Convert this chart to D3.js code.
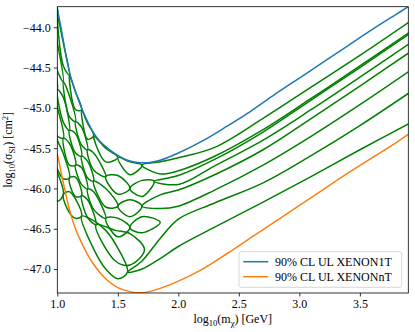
<!DOCTYPE html>
<html>
<head>
<meta charset="utf-8">
<title>XENON contours</title>
<script src="https://cdn.jsdelivr.net/npm/d3@7"></script>
<style>
  body { margin: 0; background: #fff; }
  text { font-family: "Liberation Serif", "DejaVu Serif", serif; }
</style>
</head>
<body>
<script>
// limit curves, log10(m) vs log10(sigma)
var xenon1tMass  = [1.00,1.03,1.06,1.10,1.15,1.20,1.25,1.30,1.35,1.40,1.45,1.50,1.55,1.60,1.68,1.75,1.85,2.00,2.20,2.40,2.60,2.80,3.00,3.20,3.40,3.60,3.80,3.90];
var xenon1tSigma = [-43.77,-44.00,-44.25,-44.55,-44.80,-45.00,-45.17,-45.31,-45.41,-45.48,-45.54,-45.59,-45.63,-45.66,-45.68,-45.68,-45.65,-45.56,-45.41,-45.23,-45.04,-44.83,-44.63,-44.43,-44.23,-44.03,-43.84,-43.745];

var xenonntMass  = [1.00,1.05,1.10,1.15,1.20,1.25,1.30,1.35,1.40,1.50,1.60,1.68,1.76,1.85,2.00,2.20,2.40,2.60,2.80,3.00,3.20,3.40,3.60,3.80,3.90];
var xenonntSigma = [-45.57,-45.93,-46.26,-46.50,-46.67,-46.82,-46.94,-47.04,-47.12,-47.23,-47.28,-47.295,-47.28,-47.24,-47.15,-47.00,-46.81,-46.61,-46.41,-46.21,-46.01,-45.81,-45.62,-45.43,-45.33];

// green contours: [log10 m, upper edge, lower edge]; where the two edges meet the band pinches
var bandU1 = [
  [0.95,-43.44,-43.80],[1.00,-43.82,-43.86],[1.05,-44.20,-44.48],[1.10,-44.58,-44.61],
  [1.15,-44.80,-45.02],[1.20,-45.01,-45.04],[1.25,-45.19,-45.39],[1.30,-45.33,-45.36],
  [1.40,-45.50,-45.67],[1.50,-45.60,-45.63],[1.60,-45.67,-45.83],[1.70,-45.70,-45.72],
  [1.85,-45.67,-45.82],[2.00,-45.62,-45.78],[2.30,-45.49,-45.60],[2.70,-45.13,-45.27],
  [3.10,-44.74,-44.88],[3.50,-44.35,-44.48],[4.00,-43.84,-43.97]
];
var bandU2 = [
  [0.95,-43.85,-44.25],[1.00,-44.19,-44.54],[1.05,-44.66,-44.69],[1.10,-44.85,-45.11],
  [1.15,-45.16,-45.18],[1.20,-45.24,-45.46],[1.25,-45.51,-45.53],[1.30,-45.56,-45.77],
  [1.40,-45.84,-45.87],[1.50,-45.84,-46.07],[1.60,-45.99,-46.01],[1.70,-45.90,-46.10],
  [1.80,-45.90,-45.92],[2.00,-45.84,-45.95],[2.30,-45.64,-45.72],[2.70,-45.30,-45.40],
  [3.10,-44.90,-45.02],[3.50,-44.50,-44.62],[4.00,-43.99,-44.11]
];
var bandU3 = [
  [0.95,-44.30,-44.70],[1.00,-44.76,-44.78],[1.05,-44.87,-45.18],[1.10,-45.27,-45.29],
  [1.15,-45.32,-45.56],[1.20,-45.59,-45.61],[1.25,-45.66,-45.87],[1.30,-45.90,-45.92],
  [1.40,-46.00,-46.23],[1.50,-46.21,-46.23],[1.60,-46.14,-46.35],[1.70,-46.21,-46.23],
  [1.85,-46.08,-46.25],[2.00,-46.02,-46.22],[2.30,-45.83,-46.02],[2.70,-45.52,-45.71],
  [3.10,-45.13,-45.35],[3.50,-44.73,-44.96],[4.00,-44.22,-44.45]
];
var bandLA1 = [
  [0.95,-44.75,-45.15],[1.00,-44.99,-45.35],[1.05,-45.36,-45.39],[1.10,-45.44,-45.71],
  [1.15,-45.70,-45.72],[1.20,-45.74,-45.95],[1.25,-45.99,-46.02],[1.30,-46.04,-46.26],
  [1.40,-46.36,-46.38],[1.50,-46.37,-46.60],[1.60,-46.47,-46.50],[1.70,-46.35,-46.55],
  [1.85,-46.42,-46.42]
];
var bandLA2 = [
  [0.95,-45.20,-45.60],[1.00,-45.40,-45.76],[1.05,-45.57,-45.88],[1.10,-45.86,-45.88],
  [1.15,-45.86,-46.10],[1.20,-46.08,-46.10],[1.25,-46.14,-46.36],[1.32,-46.44,-46.46],
  [1.48,-46.52,-46.90],[1.60,-46.56,-46.95],[1.72,-46.76,-46.76]
];
var bandU4 = [
  [0.95,-45.65,-46.05],[1.00,-45.80,-46.16],[1.05,-46.06,-46.09],[1.10,-46.04,-46.30],
  [1.15,-46.13,-46.37],[1.20,-46.33,-46.36],[1.30,-46.40,-46.75],[1.40,-46.52,-47.00],
  [1.50,-46.74,-47.12],[1.58,-47.03,-47.05],[1.70,-46.90,-47.00],[1.85,-46.62,-46.87],
  [2.00,-46.38,-46.72],[2.30,-46.18,-46.48],[2.70,-45.93,-46.17],[3.10,-45.59,-45.85],
  [3.50,-45.22,-45.52],[4.00,-44.72,-45.12]
];
var greenBands = [bandU1, bandU2, bandU3, bandLA1, bandLA2, bandU4];

var xTicks = [1.0, 1.5, 2.0, 2.5, 3.0, 3.5];
var yTicks = [-47.0, -46.5, -46.0, -45.5, -45.0, -44.5, -44.0];
var legendLabels = ["90% CL UL XENON1T", "90% CL UL XENONnT"];
var legendColors = ["#1f77b4", "#ff7f0e"];

// set the dimensions and margins of the graph
var margin = {top: 6.7, right: 6.7, bottom: 39, left: 57.3},
    width = 415 - margin.left - margin.right,
    height = 332 - margin.top - margin.bottom;

var x = d3.scaleLinear().domain([1.0, 3.9]).range([0, width]);
var y = d3.scaleLinear().domain([-47.297, -43.745]).range([height, 0]);

var svg = d3.select("body").append("svg")
    .attr("width", 415)
    .attr("height", 332)
  .append("g")
    .attr("transform", "translate(" + margin.left + "," + margin.top + ")");

svg.append("clipPath").attr("id", "plotclip")
  .append("rect").attr("width", width).attr("height", height);

var plot = svg.append("g").attr("clip-path", "url(#plotclip)");

var smooth = d3.line()
    .x(function(d) { return x(d[0]); })
    .y(function(d) { return y(d[1]); })
    .curve(d3.curveCatmullRom.alpha(0.5));
var smoothClosed = d3.line()
    .x(function(d) { return x(d[0]); })
    .y(function(d) { return y(d[1]); })
    .curve(d3.curveCatmullRomClosed.alpha(0.5));

function up(d) { return [d[0], d[1]]; }
function lo(d) { return [d[0], d[2]]; }
function mid(d) { return [d[0], (d[1] + d[2]) / 2]; }

function greenPath(pts, closed) {
  plot.append("path")
    .attr("d", closed ? smoothClosed(pts) : smooth(pts))
    .attr("fill", "none")
    .attr("stroke", "#008000")
    .attr("stroke-width", 1.5);
}

// each band: a U-turn on the left, a chain of cells, and a finger (or a closed tip) on the right
greenBands.forEach(function(b) {
  var pin = [];
  b.forEach(function(d, i) { if (Math.abs(d[1] - d[2]) < 0.05) pin.push(i); });
  var first = pin[0], last = pin[pin.length - 1];
  var head = b.slice(0, first);
  if (head.length) {
    greenPath(head.map(up).concat([mid(b[first])], head.slice().reverse().map(lo)), false);
  }
  for (var k = 0; k < pin.length - 1; k++) {
    var inner = b.slice(pin[k] + 1, pin[k + 1]);
    greenPath([mid(b[pin[k]])].concat(inner.map(up), [mid(b[pin[k + 1]])], inner.slice().reverse().map(lo)), true);
  }
  var tail = b.slice(last + 1);
  if (tail.length) {
    greenPath(tail.slice().reverse().map(up).concat([mid(b[last])], tail.map(lo)), false);
  }
});

// limit curves
plot.append("path")
  .attr("d", smooth(xenon1tMass.map(function(m, i) { return [m, xenon1tSigma[i]]; })))
  .attr("fill", "none").attr("stroke", legendColors[0]).attr("stroke-width", 1.5);
plot.append("path")
  .attr("d", smooth(xenonntMass.map(function(m, i) { return [m, xenonntSigma[i]]; })))
  .attr("fill", "none").attr("stroke", legendColors[1]).attr("stroke-width", 1.5);

// axes
var xAxis = svg.append("g")
    .attr("transform", "translate(0," + height + ")")
    .call(d3.axisBottom(x).tickValues(xTicks).tickFormat(d3.format(".1f")).tickSize(3.5).tickSizeOuter(0));
var yAxis = svg.append("g")
    .call(d3.axisLeft(y).tickValues(yTicks).tickFormat(d3.format(".1f")).tickSize(3.5).tickSizeOuter(0));
[xAxis, yAxis].forEach(function(a) {
  a.attr("font-family", null);
  a.select(".domain").remove();
  a.selectAll("line").attr("stroke", "#000").attr("stroke-width", 0.8);
  a.selectAll("text")
    .style("font-family", "'Liberation Serif', 'DejaVu Serif', serif")
    .attr("font-size", 12).attr("fill", "#000");
});
xAxis.selectAll("text").attr("dy", "0.78em").attr("y", 6);
yAxis.selectAll("text").attr("x", -6.5);

svg.append("rect")
  .attr("width", width).attr("height", height)
  .attr("fill", "none").attr("stroke", "#000").attr("stroke-width", 0.8);

// axis titles
var xt = svg.append("text")
  .attr("x", width / 2).attr("y", height + 30)
  .attr("text-anchor", "middle").attr("font-size", 12);
xt.append("tspan").text("log");
xt.append("tspan").attr("font-size", 8.5).attr("dy", 3).text("10");
xt.append("tspan").attr("dy", -3).text("(m");
xt.append("tspan").attr("font-size", 8.5).attr("dy", 3).text("χ");
xt.append("tspan").attr("dy", -3).text(") [GeV]");

var yt = svg.append("text")
  .attr("transform", "translate(" + (-margin.left + 12) + "," + (height / 2) + ") rotate(-90)")
  .attr("text-anchor", "middle").attr("font-size", 12);
yt.append("tspan").text("log");
yt.append("tspan").attr("font-size", 8.5).attr("dy", 3).text("10");
yt.append("tspan").attr("dy", -3).text("(σ");
yt.append("tspan").attr("font-size", 8.5).attr("dy", 3).text("SI");
yt.append("tspan").attr("dy", -3).text(") [cm");
yt.append("tspan").attr("font-size", 8.5).attr("dy", -4).text("2");
yt.append("tspan").attr("dy", 4).text("]");

// legend
var lg = svg.append("g").attr("transform", "translate(" + (239 - margin.left) + "," + (251.7 - margin.top) + ")");
lg.append("rect")
  .attr("width", 162.7).attr("height", 35.6).attr("rx", 2.5)
  .attr("fill", "#fff").attr("fill-opacity", 0.8)
  .attr("stroke", "#cccccc").attr("stroke-width", 0.8);
legendLabels.forEach(function(label, i) {
  var cy = 10 + i * 15;
  lg.append("line").attr("x1", 4.3).attr("x2", 29.3).attr("y1", cy).attr("y2", cy)
    .attr("stroke", legendColors[i]).attr("stroke-width", 1.5);
  lg.append("text").attr("x", 36).attr("y", cy).attr("dy", "0.35em")
    .attr("font-size", 12).text(label);
});
</script>
</body>
</html>
